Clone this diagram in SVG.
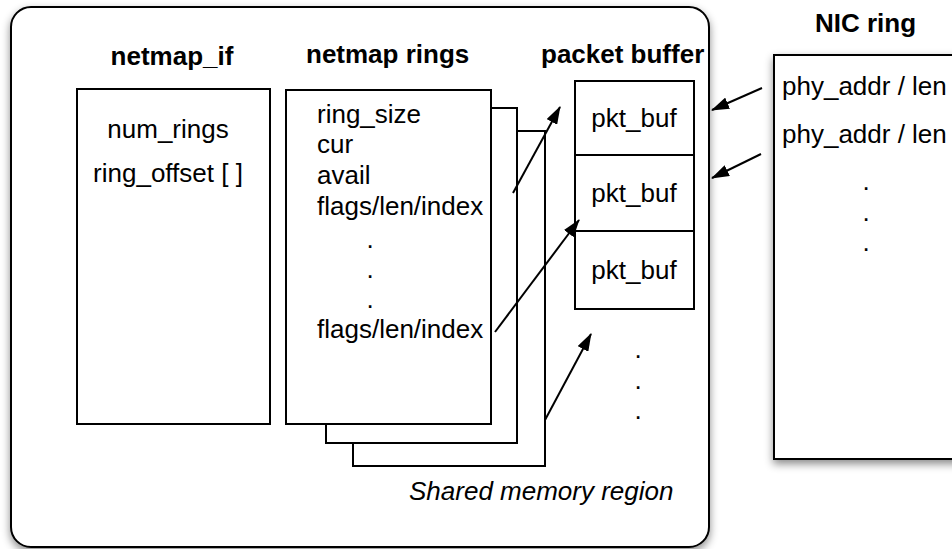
<svg xmlns="http://www.w3.org/2000/svg" width="952" height="549" viewBox="0 0 952 549">
  <style>
    .box { fill: #fff; stroke: #000; stroke-width: 2; }
    .t { font-family: "Liberation Sans", Arial, Helvetica, sans-serif; font-size: 26px; fill: #000; }
    .b { font-weight: bold; }
    .i { font-style: italic; }
    .m { text-anchor: middle; }
    .conn { stroke: #000; stroke-width: 2; fill: none; marker-end: url(#ah); }
  </style>
  <defs>
    <filter id="sh" x="-10%" y="-10%" width="120%" height="125%">
      <feDropShadow dx="0" dy="4" stdDeviation="4" flood-color="#000" flood-opacity="0.45"/>
    </filter>
    <marker id="ah" viewBox="0 0 18 12" refX="17" refY="6" markerWidth="18" markerHeight="12" markerUnits="userSpaceOnUse" orient="auto">
      <path d="M0,0 L18,6 L0,12 Z" fill="#000"/>
    </marker>
  </defs>
  <rect width="952" height="549" fill="#fff"/>

  <g id="shared-region">
    <rect x="11" y="7" width="698" height="540" rx="20" ry="20" class="box" filter="url(#sh)"/>
    <text class="t i" x="409" y="500">Shared memory region</text>
  </g>

  <g id="nic-ring">
    <text class="t b" x="815" y="32">NIC ring</text>
    <rect x="774" y="55" width="200" height="404" class="box" filter="url(#sh)"/>
    <text class="t" x="782" y="95">phy_addr / len</text>
    <text class="t" x="782" y="143">phy_addr / len</text>
    <text class="t m" x="866" y="190">.</text>
    <text class="t m" x="866" y="221">.</text>
    <text class="t m" x="866" y="251">.</text>
  </g>

  <g id="netmap-if">
    <text class="t b m" x="172" y="65">netmap_if</text>
    <rect x="77" y="89" width="193" height="335" class="box"/>
    <text class="t m" x="168" y="138">num_rings</text>
    <text class="t m" x="168" y="182">ring_offset [ ]</text>
  </g>

  <g id="netmap-rings">
    <text class="t b" x="306" y="63">netmap rings</text>
    <rect x="353" y="131" width="192" height="335" class="box"/>
    <rect x="326" y="108" width="191" height="335" class="box"/>
    <rect x="286" y="90" width="205" height="334" class="box"/>
    <text class="t" x="317" y="123">ring_size</text>
    <text class="t" x="317" y="153">cur</text>
    <text class="t" x="317" y="184">avail</text>
    <text class="t" x="317" y="215">flags/len/index</text>
    <text class="t m" x="370" y="248">.</text>
    <text class="t m" x="370" y="278">.</text>
    <text class="t m" x="370" y="308">.</text>
    <text class="t" x="317" y="338">flags/len/index</text>
  </g>

  <g id="packet-buffer">
    <text class="t b" x="541" y="63">packet buffer</text>
    <rect x="575" y="81" width="119" height="74" class="box"/>
    <rect x="575" y="155" width="119" height="76" class="box"/>
    <rect x="575" y="231" width="119" height="78" class="box"/>
    <text class="t m" x="634" y="127">pkt_buf</text>
    <text class="t m" x="634" y="202">pkt_buf</text>
    <text class="t m" x="634" y="279">pkt_buf</text>
    <text class="t m" x="638" y="358">.</text>
    <text class="t m" x="638" y="389">.</text>
    <text class="t m" x="638" y="419">.</text>
  </g>

  <g id="connectors">
    <line class="conn" x1="513" y1="193" x2="560" y2="107"/>
    <line class="conn" x1="495" y1="332" x2="579" y2="220"/>
    <line class="conn" x1="545" y1="420" x2="591" y2="334"/>
    <line class="conn" x1="762" y1="88" x2="712" y2="110"/>
    <line class="conn" x1="761" y1="154" x2="712" y2="178"/>
  </g>
</svg>
